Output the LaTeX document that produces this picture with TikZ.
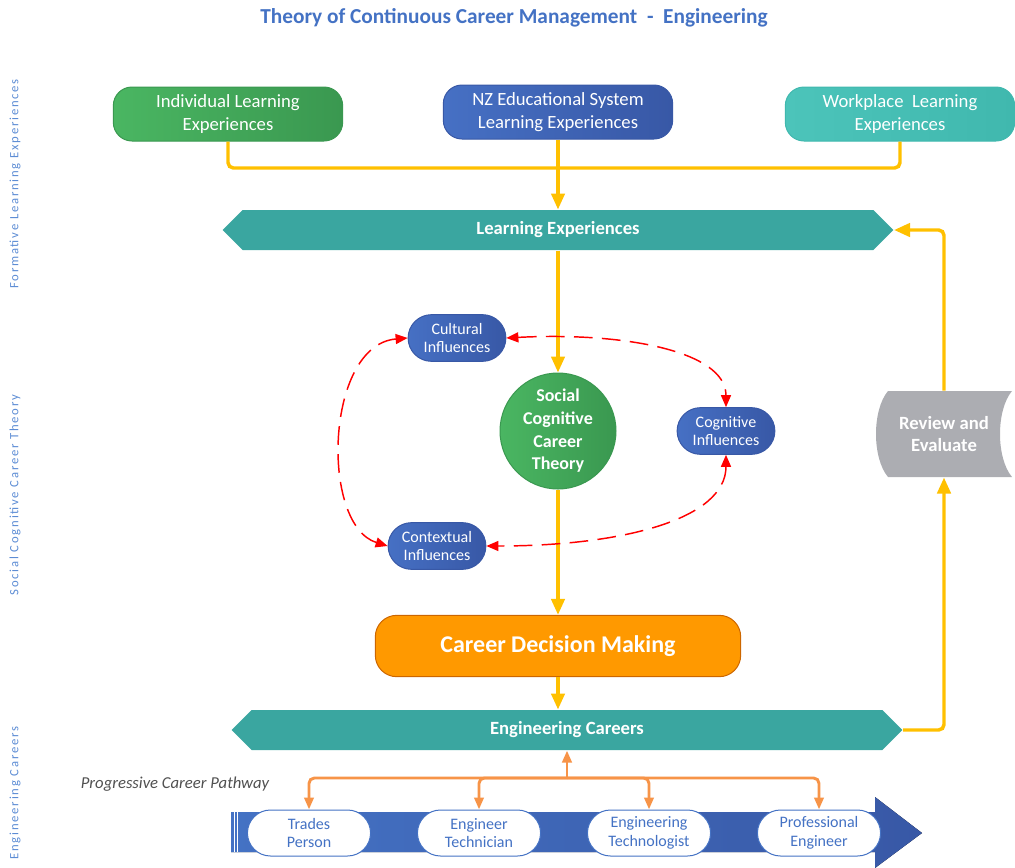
\documentclass[tikz,border=0pt]{standalone}
\usepackage{fontspec}
\setmainfont{Carlito}
\newfontfamily\spacedfont[LetterSpace=14]{Carlito}
\usetikzlibrary{shapes.symbols,shapes.misc,arrows.meta,positioning}

\definecolor{titleblue}{RGB}{68,114,196}
\definecolor{sideblue}{RGB}{92,140,212}
\definecolor{indivleft}{RGB}{74,182,98}
\definecolor{indivright}{RGB}{58,152,80}
\definecolor{nzleft}{RGB}{70,112,196}
\definecolor{nzright}{RGB}{56,88,166}
\definecolor{workleft}{RGB}{76,196,186}
\definecolor{workright}{RGB}{64,184,174}
\definecolor{hexteal}{RGB}{58,166,160}
\definecolor{yellowline}{RGB}{255,192,0}
\definecolor{cdmorange}{RGB}{255,153,0}
\definecolor{pathorange}{RGB}{247,148,72}
\definecolor{reviewgray}{RGB}{172,173,178}
\definecolor{pathgray}{RGB}{80,80,80}
\definecolor{dashred}{RGB}{255,0,0}

\tikzset{every picture/.style={line width=0.75pt}}
\tikzset{
  topbox/.style={draw, rounded corners=14pt, minimum width=172pt, minimum height=40.5pt,
    align=center, text=white, font=\fontsize{14}{17}\selectfont},
  hexbox/.style={signal, signal to=west and east, signal pointer angle=90, fill=hexteal,
    minimum width=503pt, minimum height=30pt, text=white, font=\bfseries\fontsize{14}{17}\selectfont},
  influence/.style={rounded rectangle, draw=nzright, left color=nzleft, right color=nzright,
    minimum width=80pt, minimum height=35pt, align=center, text=white,
    font=\fontsize{12}{14}\selectfont},
  careerpill/.style={rounded rectangle, draw=titleblue, fill=white, minimum width=99pt,
    minimum height=34.5pt, align=center, text=titleblue, font=\fontsize{12}{14}\selectfont},
  sidelabel/.style={rotate=90, text=sideblue, font=\spacedfont\fontsize{9.5}{11}\selectfont},
  yline/.style={draw=yellowline, line width=2.6pt, rounded corners=4pt},
  yarrow/.style={yline, -{Triangle[length=12pt,width=10pt]}},
  oarrow/.style={draw=pathorange, line width=2.2pt, rounded corners=4pt, -{Triangle[length=9pt,width=7pt]}},
  rarrow/.style={draw=dashred, line width=1.1pt, dash pattern=on 14pt off 7pt,
    {Triangle[length=9pt,width=7.5pt]}-{Triangle[length=9pt,width=7.5pt]}}
}

\begin{document}
\begin{tikzpicture}[x=0.75pt,y=0.75pt,yscale=-1,xscale=1]
\useasboundingbox (0,0) rectangle (1015,868);

% Title
\draw (514,18) node (title) [text=titleblue, font=\bfseries\fontsize{16}{19}\selectfont] {Theory of Continuous Career Management\ \ -\ \ Engineering};

% Side labels
\draw (15,184) node (sideform) [sidelabel] {Formative Learning Experiences};
\draw (15,495) node (sidesct) [sidelabel] {Social Cognitive Career Theory};
\draw (15,793) node (sidecareers) [sidelabel] {Engineering Careers};

% Top boxes
\draw (228,114) node (indiv) [topbox, draw=indivright, left color=indivleft, right color=indivright] {Individual Learning\\Experiences};
\draw (558,112) node (nz) [topbox, draw=nzright, left color=nzleft, right color=nzright] {NZ Educational System\\Learning Experiences};
\draw (900,114) node (work) [topbox, draw=workright, left color=workleft, right color=workright] {Workplace\ \ Learning\\Experiences};

% Bands
\draw (558,230) node (learn) [hexbox] {Learning Experiences};
\draw (567,730) node (engc) [hexbox] {Engineering Careers};

% Centre circle
\draw (558,431) node (sct) [circle, inner sep=0pt, draw=indivright, left color=indivleft, right color=indivright, minimum size=87pt, align=center, text=white, font=\bfseries\fontsize{13.5}{17}\selectfont] {Social\\Cognitive\\Career\\Theory};

% Influences
\draw (457,338) node (cultural) [influence] {Cultural\\Influences};
\draw (726,431) node (cognitive) [influence] {Cognitive\\Influences};
\draw (437,546) node (contextual) [influence] {Contextual\\Influences};

% Career Decision Making
\draw (558,646) node (cdm) [draw=orange!80!black, fill=cdmorange, rounded corners=16pt, minimum width=274pt, minimum height=46pt, text=white, font=\bfseries\fontsize{18}{21}\selectfont] {Career Decision Making};

% Review and Evaluate
\fill[reviewgray] (888,391) -- (1012,391) .. controls (996,410) and (996,458) .. (1012,477) -- (888,477) .. controls (872,458) and (872,410) .. cycle;
\draw (944,434) node (review) [minimum width=101pt, minimum height=64.5pt, align=center, text=white, font=\bfseries\fontsize{14}{17}\selectfont] {Review and\\Evaluate};

% Career pathway arrow
\fill[left color=titleblue, right color=nzright] (231,812) -- (875,812) -- (875,797) -- (922,833) -- (875,868) -- (875,852) -- (231,852) -- cycle;
\draw[white, line width=0.6pt] (234,812) -- (234,852) (237,812) -- (237,852);
\draw (175,784) node (pathlabel) [text=pathgray, font=\itshape\fontsize{12.5}{15}\selectfont] {Progressive Career Pathway};

\draw (309,833) node (trades) [careerpill] {Trades\\Person};
\draw (479,833) node (technician) [careerpill] {Engineer\\Technician};
\draw (649,833) node (technologist) [careerpill] {Engineering\\Technologist};
\draw (819,833) node (professional) [careerpill] {Professional\\Engineer};

% Yellow flow
\coordinate (learnjoin) at (558,168);
\draw[yline] (indiv.south) |- (learnjoin);
\draw[yline] (work.south) |- (learnjoin);
\draw[yarrow] (nz.south) -- (learn.north);
\draw[yarrow] (learn.south) -- (sct.north);
\draw[yarrow] (sct.south) -- (cdm.north);
\draw[yarrow] (cdm.south) -- (cdm.south |- engc.north);
\draw[yarrow] (engc.east) -| (review.south);
\draw[yarrow] (review.north) |- (learn.east);

% Influence loop
\draw[rarrow] (cultural.east) .. controls (620,332) and (726,350) .. (cognitive.north);
\draw[rarrow] (cognitive.south) .. controls (726,520) and (620,546) .. (contextual.east);
\draw[rarrow] (cultural.west) .. controls (325,345) and (320,525) .. (contextual.west);

% Orange pathway
\coordinate (pathjoin) at (567,778);
\draw[oarrow] (pathjoin) -- (engc.south);
\draw[oarrow] (pathjoin) -| (trades.north);
\draw[oarrow] (pathjoin) -| (technician.north);
\draw[oarrow] (pathjoin) -| (technologist.north);
\draw[oarrow] (pathjoin) -| (professional.north);

\end{tikzpicture}
\end{document}
